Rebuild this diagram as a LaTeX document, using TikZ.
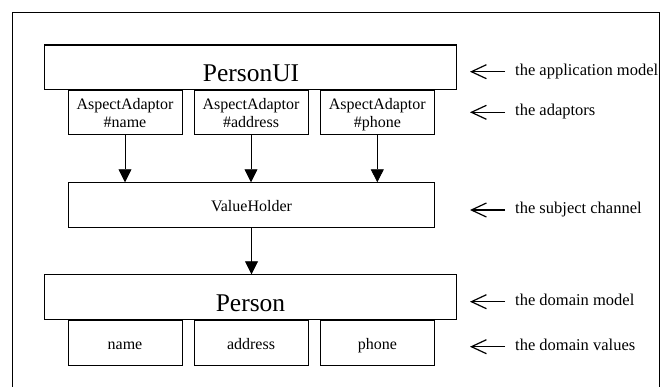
\documentclass[tikz,border=0pt]{standalone}
\usepackage{fontspec}
\setmainfont{Liberation Serif}
\usetikzlibrary{arrows.meta}

\tikzset{
  bigbox/.style={draw, line width=1.1bp, inner sep=0pt, minimum width=412.4bp, minimum height=44.3bp},
  smallbox/.style={draw, line width=0.9bp, inner sep=0pt, minimum width=114bp, minimum height=44.5bp},
  wide/.style={draw, line width=0.9bp, inner sep=0pt, minimum width=366.4bp, minimum height=44.6bp},
  bigtxt/.style={inner sep=0pt, anchor=base, font=\fontsize{25.5bp}{30bp}\selectfont},
  smalltxt/.style={inner sep=0pt, anchor=base, align=center, font=\fontsize{16bp}{18.7bp}\selectfont},
  note/.style={inner sep=0pt, anchor=base west, font=\fontsize{16.5bp}{20bp}\selectfont},
  flow/.style={line width=0.8bp, -{Triangle[length=13bp,width=13bp]}},
  pointer/.style={line width=1.2bp, -{Straight Barb[length=15bp,width=14bp,line width=1.2bp]}},
}

\begin{document}
\begin{tikzpicture}[x=1bp, y=-1bp]
  \useasboundingbox (0,0) rectangle (661,386);
  \clip (0,0) rectangle (661,386);

  % outer frame
  \draw[line width=1bp] (12.7,12.7) rectangle (659,400);

  % application model and its adaptors
  \node[bigbox] (ui) at (250.5,67.15) {};
  \node[bigtxt] (uitxt) at (251,81) {PersonUI};
  \node[smallbox] (a1) at (125,112.5) {};
  \node[smallbox] (a2) at (251,112.5) {};
  \node[smallbox] (a3) at (377.3,112.5) {};
  % base anchor of a two-line node sits on its last line
  \node[smalltxt] (a1txt) at (125,127.7) {AspectAdaptor\\\#name};
  \node[smalltxt] (a2txt) at (251,127.7) {AspectAdaptor\\\#address};
  \node[smalltxt] (a3txt) at (377.3,127.7) {AspectAdaptor\\\#phone};

  % subject channel
  \node[wide] (vh) at (251.5,205) {};
  \node[smalltxt] (vhtxt) at (251.5,211.7) {ValueHolder};

  % domain model and its values
  \node[bigbox] (p) at (250.5,297) {};
  \node[bigtxt] (ptxt) at (250.5,311) {Person};
  \node[smallbox] (v1) at (125,342.85) {};
  \node[smallbox] (v2) at (251,342.85) {};
  \node[smallbox] (v3) at (377.3,342.85) {};
  \node[smalltxt] (v1txt) at (125,349.3) {name};
  \node[smalltxt] (v2txt) at (251,349.3) {address};
  \node[smalltxt] (v3txt) at (377.3,349.3) {phone};

  % value flow
  \draw[flow] (a1.south) -- (a1.south |- vh.north);
  \draw[flow] (a2.south) -- (a2.south |- vh.north);
  \draw[flow] (a3.south) -- (a3.south |- vh.north);
  \draw[flow] (vh.south) -- (vh.south |- p.north);

  % layer captions
  \foreach \n/\y/\t in {l1/71.7/the application model,
                        l2/112.3/the adaptors,
                        l3/210/the subject channel,
                        l4/301.7/the domain model,
                        l5/346.7/the domain values} {
    \node[note] (\n) at (515,\y+3.5) {\t};
    \coordinate (\n-tail) at (505,\y);
    \coordinate (\n-tip) at (470,\y);
    \draw[pointer] (\n-tail) -- (\n-tip);
  }
\end{tikzpicture}
\end{document}
